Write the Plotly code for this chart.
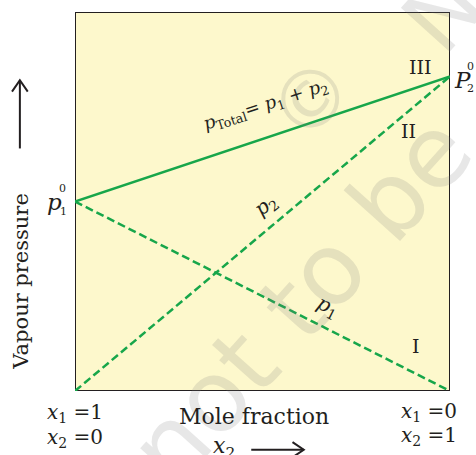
import plotly.graph_objects as go

# mole fraction of component 2 (x2) at the two ends of the diagram
x2 = [0, 1]
# partial pressures (relative scale, 0 = bottom of box, 1 = top)
p1 = [0.50, 0.0]
p2 = [0.0, 0.83]
p_total = [0.50, 0.83]

GREEN = "#17a64a"
SERIF = "DejaVu Serif"
INK = "#231f20"

fig = go.Figure()

# box with yellow fill
fig.add_shape(type="rect", x0=0, y0=0, x1=1, y1=1, xref="x", yref="y",
              fillcolor="#fdf8cc", line=dict(color=INK, width=2), layer="below")

fig.add_trace(go.Scatter(x=x2, y=p1, mode="lines",
                         line=dict(color=GREEN, width=2.5, dash="8px,4px")))
fig.add_trace(go.Scatter(x=x2, y=p2, mode="lines",
                         line=dict(color=GREEN, width=2.5, dash="8px,4px")))
fig.add_trace(go.Scatter(x=x2, y=p_total, mode="lines",
                         line=dict(color=GREEN, width=2.5)))

def txt(x, y, s, size=18, angle=0, color=INK, family=SERIF):
    # paper coords == data coords here (ranges are [0, 1])
    fig.add_annotation(x=x, y=y, xref="paper", yref="paper", text=s,
                       showarrow=False, textangle=angle,
                       font=dict(family=family, size=size, color=color),
                       xanchor="center", yanchor="middle")

def arrow(x0, y0, x1, y1, hx, hy):
    # shaft plus open chevron head (paper coords)
    fig.add_shape(type="line", x0=x0, y0=y0, x1=x1, y1=y1,
                  xref="paper", yref="paper", line=dict(color=INK, width=2))
    fig.add_shape(type="path", xref="paper", yref="paper",
                  path=f"M {x1 - hx[0]} {y1 - hy[0]} L {x1} {y1} L {x1 - hx[1]} {y1 - hy[1]}",
                  line=dict(color=INK, width=2))

# faint watermark
wm = "rgba(120,120,120,0.18)"
txt(0.60, 0.24, "not to be", 100, angle=-48, color=wm, family="DejaVu Sans")
txt(0.63, 0.77, "©", 80, angle=-48, color=wm, family="DejaVu Sans")
txt(0.98, 1.0, "N", 90, angle=-48, color=wm, family="DejaVu Sans")

# end point labels
txt(-0.055, 0.50, "<i>p</i>", 23)
txt(-0.033, 0.535, "0", 11)
txt(-0.031, 0.473, "1", 11)
txt(1.032, 0.82, "<i>P</i>", 23)
txt(1.055, 0.857, "0", 11)
txt(1.055, 0.798, "2", 11)

# region labels
txt(0.92, 0.855, "III", 19)
txt(0.89, 0.685, "II", 19)
txt(0.91, 0.12, "I", 19)

# line labels
txt(0.51, 0.755, "<i>p</i><sub>Total</sub>= <i>p</i><sub>1</sub> + <i>p</i><sub>2</sub>", 18, angle=-18)
txt(0.51, 0.49, "<i>p</i><sub>2</sub>", 20, angle=-38)
txt(0.675, 0.222, "<i>p</i><sub>1</sub>", 20, angle=27)

# bottom labels
txt(0.0, -0.058, "<i>x</i><sub>1</sub> =1", 20)
txt(0.0, -0.124, "<i>x</i><sub>2</sub> =0", 20)
txt(0.945, -0.055, "<i>x</i><sub>1</sub> =0", 20)
txt(0.945, -0.12, "<i>x</i><sub>2</sub> =1", 20)
txt(0.477, -0.066, "Mole fraction", 22)
txt(0.397, -0.15, "<i>x</i><sub>2</sub>", 22)
arrow(0.47, -0.155, 0.61, -0.155, (0.03, 0.03), (-0.02, 0.02))

# y axis label with arrow
txt(-0.145, 0.29, "Vapour pressure", 21, angle=-90)
arrow(-0.147, 0.64, -0.147, 0.82, (0.021, -0.021), (0.03, 0.03))

fig.update_xaxes(range=[0, 1], visible=False, fixedrange=True)
fig.update_yaxes(range=[0, 1], visible=False, fixedrange=True)
fig.update_layout(width=476, height=455, showlegend=False,
                  margin=dict(l=75, r=26, t=12, b=64, autoexpand=False),
                  plot_bgcolor="white", paper_bgcolor="white")

# drop the default page margin so the figure fills the window exactly
fig.write_html("out.html", config={"displayModeBar": False},
               post_script="document.body.style.margin='0';document.body.style.overflow='hidden';")
